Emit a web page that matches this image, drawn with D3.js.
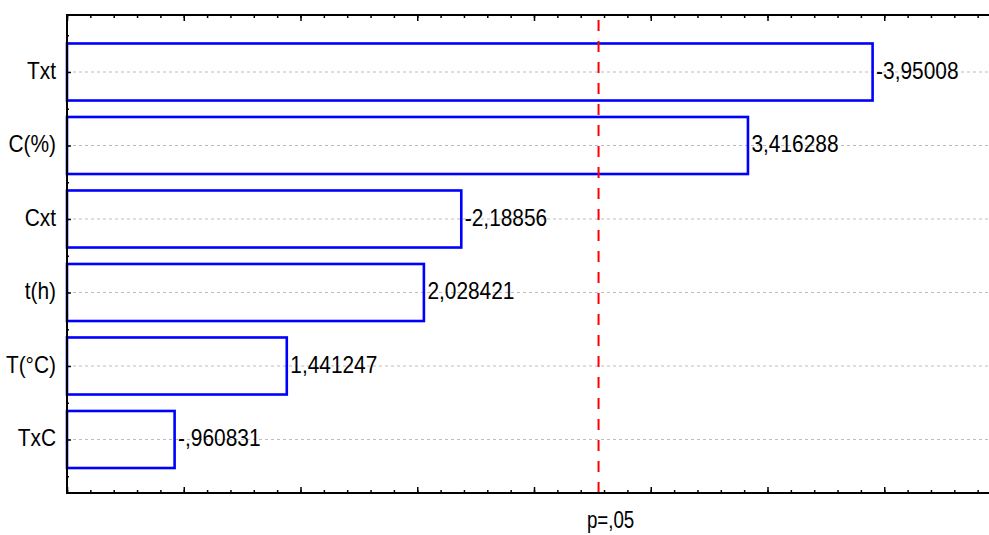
<!DOCTYPE html>
<html>
<head>
<meta charset="utf-8">
<script src="https://cdn.jsdelivr.net/npm/d3@7"></script>
<style>
  html, body { margin: 0; padding: 0; background: #fff; }
  svg { display: block; }
  text { font-family: "Liberation Sans", Arial, sans-serif; font-size: 24px; fill: #000; }
</style>
</head>
<body>
<svg id="chart" width="989" height="535"></svg>
<script>
// Standardized effects (t values), sorted by absolute size
const factors = ["Txt", "C(%)", "Cxt", "t(h)", "T(°C)", "TxC"];
const effects = [-3.95008, 3.416288, -2.18856, 2.028421, 1.441247, -0.960831];

// Critical t value for p = .05 and its caption
const pCritical = 2.776445;
const pLabel = "p=,05";

// Horizontal axis domain and tick steps
const xDomain = [0.5, 4.5];
const majorStep = 0.5;
const minorStep = 0.1;

const W = 989, H = 535;
const plotLeft = 67, plotTop = 15, plotBottom = 493;
const plotRight = 1001;   // axis continues past the right edge of the view
const narrow = 0.87;      // condensed lettering

const svg = d3.select("#chart");

const x = d3.scaleLinear().domain(xDomain).range([plotLeft, plotRight]);
const y = d3.scaleBand().domain(factors)
  .range([35.25, 476.25]).paddingInner(0.224).paddingOuter(0.112);

// statistica-style number text: 7 significant digits, comma decimal, no leading zero
function fmt(v) {
  let s = v.toPrecision(7);
  if (s.indexOf(".") >= 0) s = s.replace(/0+$/, "").replace(/\.$/, "");
  s = s.replace(/^(-?)0\./, "$1.");
  return s.replace(".", ",");
}

const rows = factors.map((f, i) => ({ f, v: effects[i], a: Math.abs(effects[i]) }));

// dotted row guides
svg.append("g").selectAll("line").data(rows).join("line")
  .attr("x1", plotLeft).attr("x2", W)
  .attr("y1", d => y(d.f) + y.bandwidth() / 2)
  .attr("y2", d => y(d.f) + y.bandwidth() / 2)
  .attr("stroke", "#bdbdbd").attr("stroke-width", 1)
  .attr("stroke-dasharray", "3,3");

// effect bars (outlined)
svg.append("g").selectAll("rect").data(rows).join("rect")
  .attr("x", x(xDomain[0]))
  .attr("y", d => y(d.f))
  .attr("width", d => x(d.a) - x(xDomain[0]))
  .attr("height", y.bandwidth())
  .attr("fill", "none")
  .attr("stroke", "#0000ff").attr("stroke-width", 2.6);

// significance line
svg.append("line")
  .attr("x1", x(pCritical)).attr("x2", x(pCritical))
  .attr("y1", plotTop).attr("y2", plotBottom)
  .attr("stroke", "#ff0000").attr("stroke-width", 2)
  .attr("stroke-dasharray", "11,10").attr("stroke-dashoffset", -5);

// frame axes with inward ticks
const majors = d3.range(xDomain[0], xDomain[1] + 1e-9, majorStep);
const minors = d3.range(xDomain[0], xDomain[1] + 1e-9, minorStep);

function xAxes(gen, yPos) {
  svg.append("g").attr("transform", `translate(0,${yPos})`)
    .call(gen(x).tickValues(minors).tickSize(-3).tickFormat(""));
  svg.append("g").attr("transform", `translate(0,${yPos})`)
    .call(gen(x).tickValues(majors).tickSize(-6).tickFormat(""));
}
xAxes(d3.axisTop, plotTop);
xAxes(d3.axisBottom, plotBottom);

// left axis: ticks at row centres and row boundaries
const centers = rows.map(d => y(d.f) + y.bandwidth() / 2);
const bounds = [centers[0] - y.step() / 2].concat(centers.map(c => c + y.step() / 2));
const yLin = d3.scaleIdentity();
svg.append("g").attr("transform", `translate(${plotLeft},0)`)
  .call(d3.axisLeft(yLin).tickValues(bounds).tickSize(-2).tickFormat(""));
svg.append("g").attr("transform", `translate(${plotLeft},0)`)
  .call(d3.axisLeft(yLin).tickValues(centers).tickSize(-4).tickFormat(""));

// axis lines across the whole frame
svg.selectAll(".domain").remove();
svg.append("line").attr("x1", plotLeft).attr("x2", W).attr("y1", plotTop).attr("y2", plotTop)
  .attr("stroke", "#000").attr("stroke-width", 2);
svg.append("line").attr("x1", plotLeft).attr("x2", W).attr("y1", plotBottom).attr("y2", plotBottom)
  .attr("stroke", "#000").attr("stroke-width", 2);
svg.append("line").attr("x1", plotLeft).attr("x2", plotLeft).attr("y1", plotTop - 1).attr("y2", plotBottom + 1)
  .attr("stroke", "#000").attr("stroke-width", 2);
svg.selectAll(".tick line").attr("stroke", "#000").attr("stroke-width", 1.5);

// factor names
svg.append("g").selectAll("text").data(rows).join("text")
  .attr("transform", d => `translate(56,${y(d.f) + y.bandwidth() / 2 + 6.5}) scale(${narrow},1)`)
  .attr("text-anchor", "end")
  .text(d => d.f);

// effect values at the bar ends
svg.append("g").selectAll("text").data(rows).join("text")
  .attr("transform", d => `translate(${x(d.a) + 3.5},${y(d.f) + y.bandwidth() / 2 + 6.5}) scale(${narrow},1)`)
  .text(d => fmt(d.v));

// significance caption
svg.append("text")
  .attr("transform", `translate(${x(pCritical) + 12},528) scale(0.78,1)`)
  .attr("text-anchor", "middle")
  .text(pLabel);
</script>
</body>
</html>
